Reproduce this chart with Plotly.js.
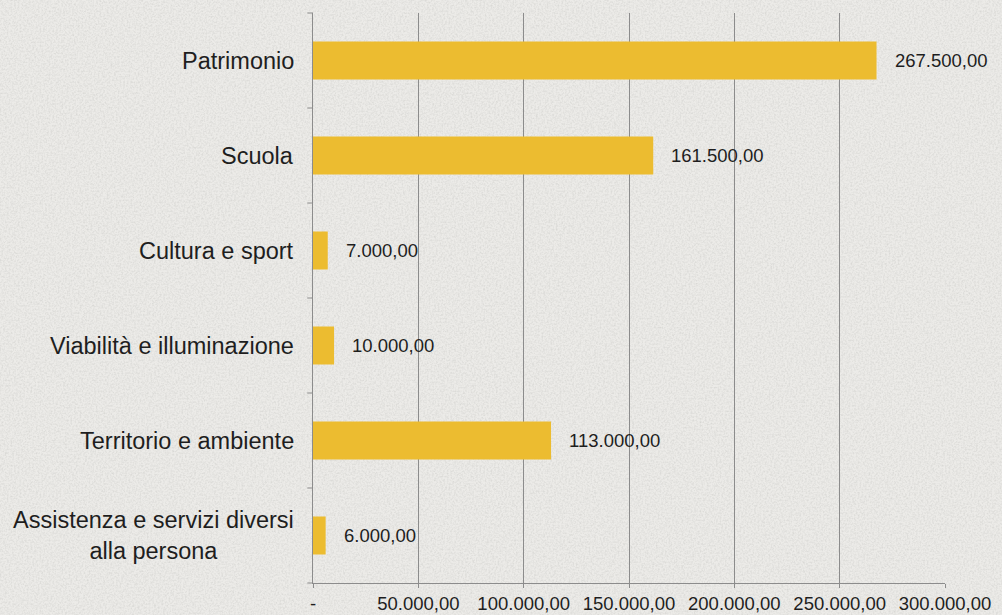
<!DOCTYPE html>
<html><head><meta charset="utf-8">
<script src="https://cdn.plot.ly/plotly-3.0.1.min.js"></script>
<style>
html,body{margin:0;padding:0;}
body{width:1002px;height:615px;overflow:hidden;background:#e9e7e3;}
#bg{position:absolute;left:0;top:0;width:1002px;height:615px;}
#chart{position:absolute;left:0;top:0;width:1002px;height:615px;}
</style></head>
<body>
<svg id="bg" width="1002" height="615">
<filter id="n"><feTurbulence type="fractalNoise" baseFrequency="0.55" numOctaves="3" seed="4"/><feColorMatrix type="matrix" values="0 0 0 0 0.55  0 0 0 0 0.55  0 0 0 0 0.53  0 0 0 -1.6 1.0"/></filter>
<rect width="1002" height="615" fill="#ecebe8"/>
<rect width="1002" height="615" filter="url(#n)" opacity="0.55"/>
</svg>
<div id="chart"></div>
<script>
const categories = ["Patrimonio","Scuola","Cultura e sport","Viabilità e illuminazione","Territorio e ambiente","Assistenza e servizi diversi<br>alla persona"];
const values = [267500, 161500, 7000, 10000, 113000, 6000];
const valueLabels = ["267.500,00","161.500,00","7.000,00","10.000,00","113.000,00","6.000,00"];
const tickVals = [0, 50000, 100000, 150000, 200000, 250000, 300000];
const tickText = ["-", "50.000,00", "100.000,00", "150.000,00", "200.000,00", "250.000,00", "300.000,00"];

const font = {family: "Liberation Sans, Arial, sans-serif", color: "#1e1e1e"};

const trace = {
  type: "bar", orientation: "h",
  x: values, y: categories,
  marker: {color: "#ecbc30"},
  width: 0.4,
  hoverinfo: "none"
};

const annotations = [];
categories.forEach((c, i) => {
  annotations.push({x: values[i], y: c, xref: "x", yref: "y", text: valueLabels[i], showarrow: false,
    xanchor: "left", xshift: 16, font: {...font, size: 18.5}});
  annotations.push({x: 0, y: c, xref: "paper", yref: "y", text: c, showarrow: false,
    xanchor: "right", align: "center", xshift: -17, font: {...font, size: 23.5}});
});

const layout = {
  width: 1002, height: 615,
  paper_bgcolor: "rgba(0,0,0,0)", plot_bgcolor: "rgba(0,0,0,0)",
  margin: {l: 313, r: 57, t: 13, b: 32},
  showlegend: false,
  font: font,
  xaxis: {range: [0, 300000], tickvals: tickVals, ticktext: tickText, showgrid: true, gridcolor: "#8c8c8c", gridwidth: 1,
    zeroline: false, showline: true, linecolor: "#8c8c8c", linewidth: 1, ticks: "outside", ticklen: 4, tickcolor: "#8c8c8c",
    tickfont: {...font, size: 18.5}, fixedrange: true},
  yaxis: {type: "category", autorange: "reversed", showticklabels: false, showline: true, linecolor: "#8c8c8c", linewidth: 1,
    showgrid: false, zeroline: false, ticks: "", fixedrange: true},
  shapes: [],
  annotations: annotations
};
// category boundary tick marks on y axis
for (let k = 0; k <= categories.length; k++) {
  layout.shapes.push({type: "line", xref: "paper", yref: "paper", x0: -0.009, x1: 0, y0: k / categories.length, y1: k / categories.length,
    line: {color: "#8c8c8c", width: 1}});
}
Plotly.newPlot("chart", [trace], layout, {staticPlot: true});
</script>
</body></html>
